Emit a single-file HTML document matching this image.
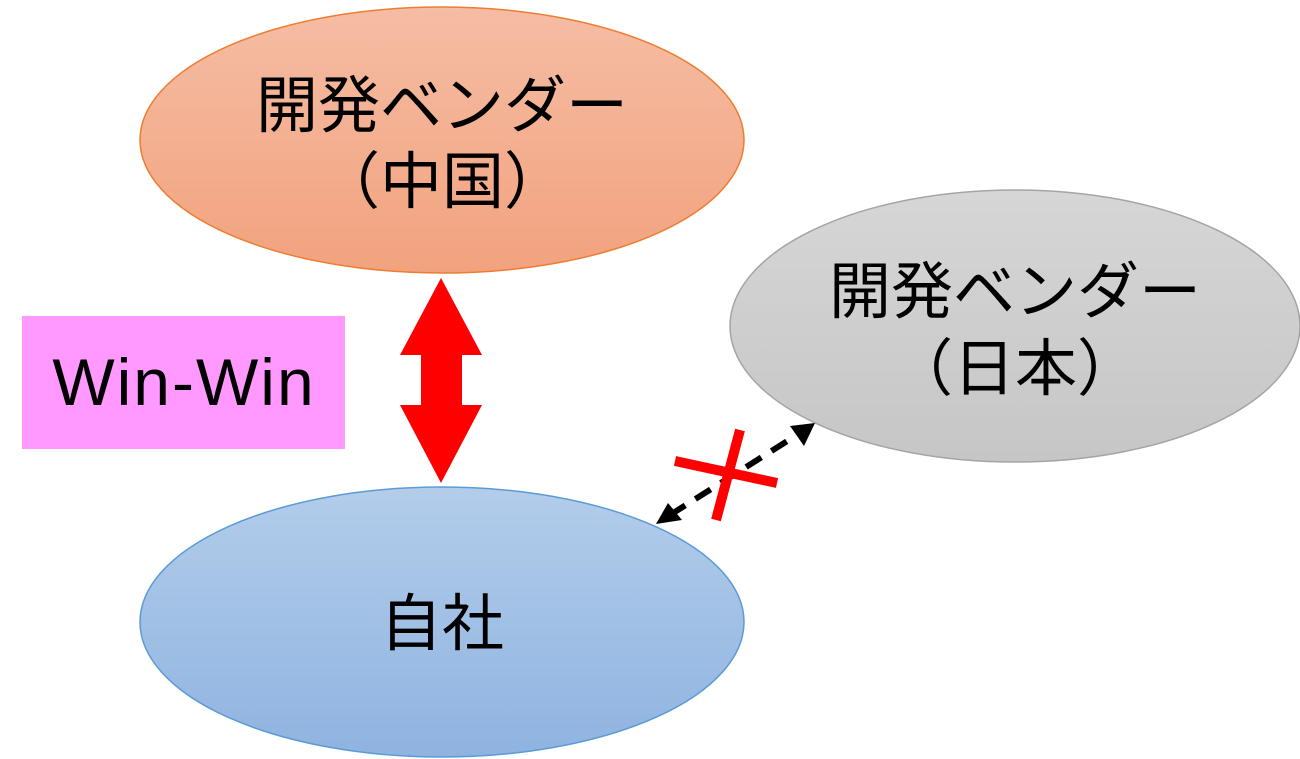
<!DOCTYPE html>
<html><head><meta charset="utf-8"><style>
html,body{margin:0;padding:0;background:#fff;width:1300px;height:759px;overflow:hidden}
</style></head><body>
<svg width="1300" height="759" viewBox="0 0 1300 759" xmlns="http://www.w3.org/2000/svg" font-family="Liberation Sans, Noto Sans CJK JP, sans-serif">
<defs>
<linearGradient id="go" x1="0" y1="0" x2="0" y2="1"><stop offset="0" stop-color="#f5bda4"/><stop offset="1" stop-color="#f2a27e"/></linearGradient>
<linearGradient id="gg" x1="0" y1="0" x2="0" y2="1"><stop offset="0" stop-color="#d6d6d6"/><stop offset="1" stop-color="#c6c6c6"/></linearGradient>
<linearGradient id="gb" x1="0" y1="0" x2="0" y2="1"><stop offset="0" stop-color="#b3cdea"/><stop offset="1" stop-color="#8fb3e0"/></linearGradient>
</defs>
<ellipse cx="442" cy="140" rx="302" ry="133" fill="url(#go)" stroke="#ed7d31" stroke-width="1.5"/>
<ellipse cx="1015" cy="326" rx="285" ry="136" fill="url(#gg)" stroke="#a5a5a5" stroke-width="1.5"/>
<ellipse cx="442" cy="622" rx="302" ry="135" fill="url(#gb)" stroke="#5b9bd5" stroke-width="1.5"/>
<text x="442" y="127" font-size="62" text-anchor="middle">開発ベンダー</text>
<text x="442" y="203" font-size="62" text-anchor="middle">（中国）</text>
<text x="1015" y="313" font-size="62" text-anchor="middle">開発ベンダー</text>
<text x="1015" y="390" font-size="62" text-anchor="middle">（日本）</text>
<text x="442" y="645" font-size="62" text-anchor="middle">自社</text>
<rect x="22" y="316" width="323" height="133" fill="#ff99ff"/>
<text x="184" y="405" font-size="66" text-anchor="middle" letter-spacing="2">Win-Win</text>
<polygon points="441,278 482,355 462,355 462,405 482,405 441,483 400,405 421,405 421,355 400,355" fill="#ff0000"/>
<line x1="670" y1="515" x2="800" y2="433" stroke="#000" stroke-width="6" stroke-dasharray="18,12"/>
<polygon points="656,524 668,503 682,520" fill="#000"/>
<polygon points="815,423 790,426 804,446" fill="#000"/>
<line x1="675" y1="461" x2="777" y2="483" stroke="#ff0000" stroke-width="10"/>
<line x1="740" y1="430" x2="716" y2="520" stroke="#ff0000" stroke-width="10"/>
</svg>
</body></html>
